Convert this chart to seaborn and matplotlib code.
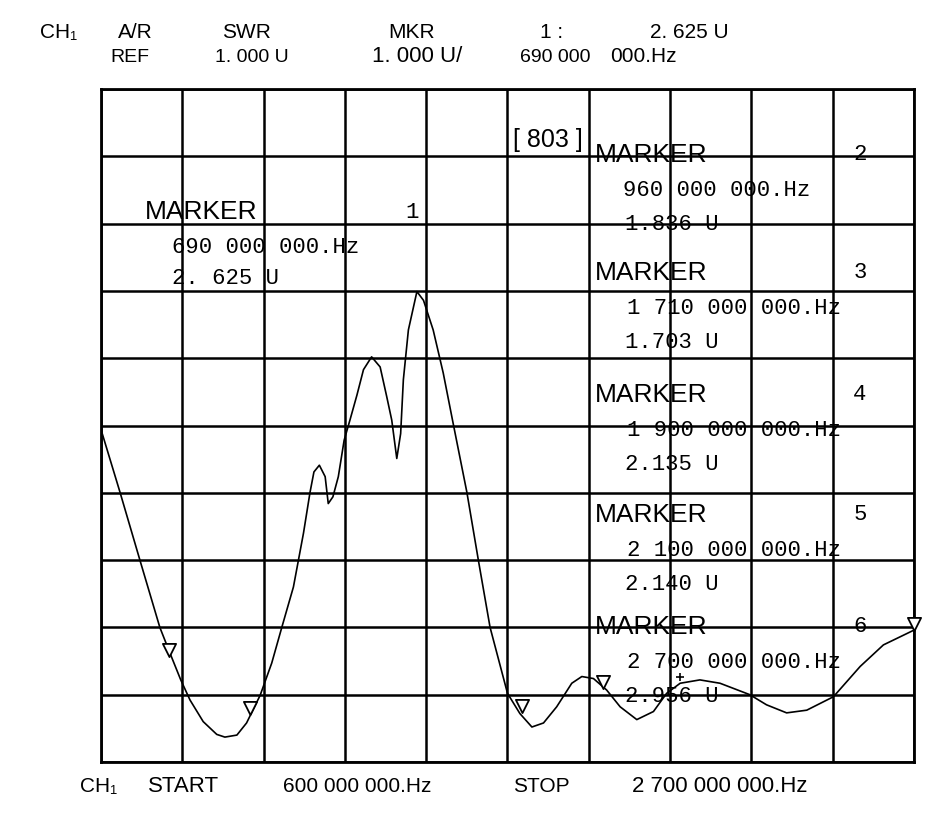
import numpy as np
import matplotlib
matplotlib.use("Agg")
import matplotlib.pyplot as plt
import seaborn as sns
import pandas as pd

sns.set_style("white")
plt.rcParams['font.family'] = ['Liberation Sans', 'DejaVu Sans']
plt.rcParams['text.color'] = 'black'

# sweep (MHz, SWR units)
freq_mhz = [600, 649, 701, 752, 778, 806, 830, 864, 899, 920, 951, 976,
            1011, 1041, 1067, 1097, 1123, 1140, 1150, 1164, 1179, 1187, 1199,
            1213, 1228, 1243, 1261, 1278, 1299, 1321, 1338, 1351, 1364, 1374,
            1381, 1394, 1416, 1433, 1458, 1484, 1510, 1545, 1575, 1605, 1650,
            1682, 1713, 1743, 1777, 1816, 1842, 1872, 1906, 1941, 1984, 2027,
            2061, 2096, 2147, 2199, 2276, 2319, 2371, 2423, 2492, 2561, 2621, 2700]
swr = [5.94, 5.01, 3.99, 3.00, 2.62, 2.22, 1.92, 1.60, 1.41, 1.37, 1.40, 1.58,
       1.99, 2.47, 3.00, 3.60, 4.40, 5.01, 5.31, 5.41, 5.24, 4.84, 4.94,
       5.24, 5.78, 6.08, 6.45, 6.83, 7.02, 6.87, 6.43, 6.08, 5.51, 5.88,
       6.68, 7.42, 7.99, 7.86, 7.42, 6.78, 6.02, 5.01, 3.99, 3.00, 2.02,
       1.72, 1.52, 1.58, 1.82, 2.17, 2.27, 2.24, 2.07, 1.82, 1.63, 1.75,
       2.02, 2.17, 2.22, 2.17, 2.00, 1.85, 1.73, 1.77, 1.97, 2.42, 2.74, 2.96]

# marker triangles on the trace
tri_freq = [776, 985, 1688, 1897, 2700]
tri_swr = [2.66, 1.80, 1.83, 2.19, 3.05]
act_freq = [2096]
act_swr = [2.27]

start_mhz, stop_mhz = 600, 2700
ref_u, u_div = 1.0, 1.0

mkr_names = ["1", "2", "3", "4", "5", "6"]
mkr_freq_txt = ["690 000 000.Hz", "960 000 000.Hz", "1 710 000 000.Hz",
                "1 900 000 000.Hz", "2 100 000 000.Hz", "2 700 000 000.Hz"]
mkr_val_txt = ["2.625 U", "1.836 U", "1.703 U", "2.135 U", "2.140 U", "2.956 U"]

df = pd.DataFrame({"freq": freq_mhz, "swr": swr})

W, H = 928, 831
fig = plt.figure(figsize=(W / 100, H / 100), dpi=100)
ax = fig.add_axes([101 / W, 1 - 762 / H, 813 / W, 673 / H])

sns.lineplot(data=df, x="freq", y="swr", ax=ax, color="black", lw=1.2, sort=False)
ax.scatter(tri_freq, tri_swr, marker="v", s=90, facecolors="white",
           edgecolors="black", linewidths=1.3, zorder=5, clip_on=False)
ax.scatter(act_freq, act_swr, marker="+", s=40, color="black", lw=1.2, zorder=5)

ax.set_xlim(start_mhz, stop_mhz)
ax.set_ylim(ref_u, ref_u + 10 * u_div)
ax.set_xticks(np.linspace(start_mhz, stop_mhz, 11))
ax.set_yticks(np.arange(ref_u, ref_u + 10.5 * u_div, u_div))
ax.tick_params(length=0, labelbottom=False, labelleft=False)
ax.set_xlabel("")
ax.set_ylabel("")
ax.grid(True, color="black", lw=1.8)
for s in ax.spines.values():
    s.set_color("black")
    s.set_linewidth(2)


def put(x, y, s, size, fam, ha="left", **kw):
    fig.text(x / W, 1 - y / H, s, fontsize=size, family=fam, ha=ha, va="center",
             color="black", **kw)


sans = ['Liberation Sans', 'DejaVu Sans']
mono = ['Liberation Mono', 'DejaVu Sans Mono']

# header
put(40, 32, "CH₁", 15, sans)
put(118, 32, "A/R", 15, sans)
put(222, 32, "SWR", 15, sans)
put(388, 32, "MKR", 15, sans)
put(540, 32, "1 :", 15, sans)
put(650, 32, "2. 625 U", 15, sans)
put(110, 57, "REF", 14, sans)
put(215, 57, "1. 000 U", 14, sans)
put(372, 57, "1. 000 U/", 16, sans)
put(520, 57, "690 000", 14, sans)
put(610, 57, "000.Hz", 15, sans)

# footer
put(80, 787, "CH₁", 15, sans)
put(148, 787, "START", 16, sans)
put(283, 787, "600 000 000.Hz", 15, sans)
put(513, 787, "STOP", 15, sans)
put(632, 787, "2 700 000 000.Hz", 16, sans)

# marker readouts
put(513, 140, "[ 803 ]", 18, sans)
put(145, 212, "MARKER", 19, sans)
put(412, 212, mkr_names[0], 16, mono, ha="center")
put(172, 247, mkr_freq_txt[0], 16, mono)
put(172, 278, "2. 625 U", 16, mono)

rows = [155, 273, 395, 515, 627]
for i, y0 in enumerate(rows):
    put(595, y0, "MARKER", 19, sans)
    put(860, y0, mkr_names[i + 1], 16, mono, ha="center")
    fx = 623 if i == 0 else 627
    put(fx, y0 + 36, mkr_freq_txt[i + 1], 16, mono)
    put(625, y0 + 69, mkr_val_txt[i + 1], 16, mono)

fig.savefig("out.png", dpi=100)
